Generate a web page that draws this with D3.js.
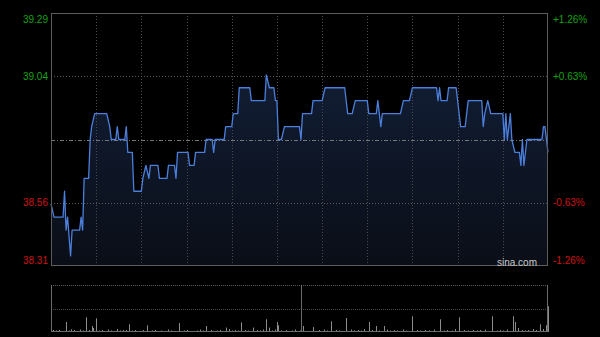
<!DOCTYPE html>
<html><head><meta charset="utf-8">
<script src="https://cdn.jsdelivr.net/npm/d3@7"></script>
<style>html,body{margin:0;padding:0;background:#000;}svg{display:block;}</style>
</head><body>
<svg id="c" width="600" height="337"></svg>
<script>
// ---- data ----
const prevClose = 38.80;
const pctTicks = [0.0126, 0.0063, -0.0063, -0.0126];
const priceTickLabels = ["39.29", "39.04", "38.56", "38.31"];
const pctTickLabels = ["+1.26%", "+0.63%", "-0.63%", "-1.26%"];
const sessions = [["09:30", "12:00"], ["13:00", "16:00"]];
const priceTimes = ["09:30","09:32","09:38","09:39","09:40","09:41","09:43","09:44","09:49","09:50","09:51","09:52","09:55","09:56","09:57","09:59","10:07","10:09","10:10","10:13","10:14","10:15","10:19","10:20","10:21","10:24","10:25","10:30","10:31","10:33","10:35","10:36","10:41","10:42","10:47","10:48","10:52","10:53","10:54","11:01","11:02","11:05","11:06","11:12","11:13","11:17","11:18","11:19","11:25","11:26","11:30","11:31","11:34","11:35","11:42","11:43","11:52","11:53","11:55","11:58","11:59","12:00","13:01","13:03","13:05","13:15","13:16","13:17","13:23","13:24","13:30","13:32","13:45","13:47","13:50","13:52","14:00","14:01","14:06","14:07","14:09","14:10","14:22","14:24","14:28","14:30","14:46","14:47","14:48","14:49","14:53","14:54","14:59","15:02","15:05","15:07","15:16","15:17","15:18","15:20","15:22","15:30","15:31","15:32","15:33","15:35","15:36","15:38","15:41","15:42","15:43","15:44","15:46","15:56","15:57","15:58","16:00"];
const priceValues = [38.55,38.50,38.50,38.60,38.45,38.50,38.35,38.45,38.45,38.50,38.45,38.65,38.65,38.80,38.85,38.90,38.90,38.85,38.80,38.80,38.85,38.80,38.80,38.85,38.75,38.75,38.60,38.60,38.65,38.70,38.65,38.70,38.70,38.65,38.65,38.70,38.70,38.65,38.75,38.75,38.70,38.70,38.75,38.75,38.80,38.80,38.75,38.80,38.80,38.85,38.85,38.90,38.90,39.00,39.00,38.95,38.95,39.05,39.00,39.00,38.95,38.95,38.80,38.80,38.85,38.85,38.80,38.90,38.90,38.95,38.95,39.00,39.00,38.90,38.90,38.95,38.95,38.90,38.90,38.95,38.85,38.90,38.90,38.95,38.95,39.00,39.00,38.95,39.00,38.95,38.95,39.00,39.00,38.85,38.85,38.95,38.95,38.85,38.90,38.95,38.90,38.90,38.80,38.90,38.80,38.90,38.80,38.75,38.75,38.70,38.80,38.70,38.80,38.80,38.85,38.85,38.75];
// volume per minute (shares), only minutes with visible bars
const volTimes = ["09:30","09:31","09:33","09:35","09:37","09:40","09:42","09:43","09:45","09:47","09:49","09:51","09:53","09:55","09:57","09:58","10:00","10:02","10:04","10:06","10:08","10:10","10:12","10:14","10:16","10:18","10:20","10:22","10:24","10:26","10:28","10:31","10:34","10:37","10:39","10:43","10:45","10:48","10:50","10:55","10:58","11:00","11:03","11:07","11:09","11:11","11:13","11:16","11:20","11:22","11:26","11:28","11:30","11:32","11:34","11:36","11:39","11:41","11:44","11:47","11:49","11:51","11:53","11:55","11:57","11:59","12:00","13:01","13:03","13:06","13:10","13:12","13:15","13:17","13:20","13:24","13:28","13:31","13:33","13:36","13:39","13:41","13:46","13:49","13:51","13:54","13:56","13:58","14:01","14:03","14:06","14:08","14:11","14:13","14:15","14:18","14:20","14:24","14:26","14:30","14:33","14:35","14:38","14:41","14:44","14:48","14:51","14:53","14:56","14:58","15:01","15:04","15:07","15:10","15:13","15:15","15:18","15:23","15:26","15:28","15:30","15:33","15:37","15:38","15:40","15:43","15:45","15:47","15:50","15:52","15:55","15:57","15:59","16:00"];
const volValues = [4000,2000,1500,2000,1000,10000,1500,2700,2000,1000,2500,1500,14700,2000,6000,4000,13700,1500,2000,1000,2500,1500,1000,3000,1500,2000,2000,7700,1500,2000,1000,2000,6700,1500,2000,1500,1000,2500,1500,9000,1500,2000,1000,1500,2500,1500,6000,2000,1500,2000,4400,3000,1500,2000,1500,9700,2000,1500,4400,2000,1500,2500,12700,4400,1500,2500,10000,6700,1500,2000,1500,2500,1500,6000,1000,5000,2000,2500,1500,10700,2000,1500,14000,2500,1500,2000,1500,3000,10000,2000,6000,1500,6000,2500,1500,2000,1500,2500,1500,15700,2000,1500,2000,1500,2500,12700,1500,2000,1500,3000,14700,2000,1500,2000,1500,2000,2500,15700,1500,2000,1500,2500,15700,10000,4000,2000,1500,2000,3000,2000,7700,3000,6700,25700];
const volTop = 47000;

// ---- helpers ----
function toMin(t){ const [h,m]=t.split(":").map(Number); const v=h*60+m; return v<=720 ? v-570 : v-780+150; }
const totalMin = toMin(sessions[1][1]);

const svg = d3.select("#c");
const L = 51, R = 548, T = 13, B = 266;
const VT = 285, VB = 332;

const x = d3.scaleLinear().domain([0, totalMin]).range([L, R]);
const y = d3.scaleLinear().domain([prevClose*(1+pctTicks[3]), prevClose*(1+pctTicks[0])]).range([B, T]);
const yv = d3.scaleLinear().domain([0, volTop]).range([VB, VT]);

const defs = svg.append("defs");
const grad = defs.append("linearGradient").attr("id","ag").attr("gradientUnits","userSpaceOnUse")
  .attr("x1",0).attr("x2",0).attr("y1",T).attr("y2",B);
grad.append("stop").attr("offset","0%").attr("stop-color","#15233f");
grad.append("stop").attr("offset","30%").attr("stop-color","#111c32");
grad.append("stop").attr("offset","100%").attr("stop-color","#0a0e17");

const pts = priceTimes.map((t,i)=>({m:toMin(t), p:priceValues[i]}));

// area
svg.append("path").datum(pts)
  .attr("d", d3.area().x(d=>x(d.m)).y0(B).y1(d=>y(d.p)))
  .attr("fill","url(#ag)");

// vertical grid lines (every 30 minutes)
const vgrid = d3.range(30, totalMin, 30);
svg.append("g").selectAll("line").data(vgrid).join("line")
  .attr("x1",d=>Math.round(x(d))+0.5).attr("x2",d=>Math.round(x(d))+0.5)
  .attr("y1",T).attr("y2",B)
  .attr("stroke","#4a4a4a").attr("stroke-dasharray","1,2");

// horizontal grid
const hLevels = [pctTicks[1], pctTicks[2]];
svg.append("g").selectAll("line").data(hLevels).join("line")
  .attr("x1",L).attr("x2",R)
  .attr("y1",d=>Math.round(y(prevClose*(1+d)))+0.5).attr("y2",d=>Math.round(y(prevClose*(1+d)))+0.5)
  .attr("stroke","#5a5a5a").attr("stroke-dasharray","1,2");
svg.append("line").attr("x1",L).attr("x2",R)
  .attr("y1",Math.round(y(prevClose))+0.5).attr("y2",Math.round(y(prevClose))+0.5)
  .attr("stroke","#777").attr("stroke-dasharray","4,2,1,2");

// line
svg.append("path").datum(pts)
  .attr("d", d3.line().x(d=>x(d.m)).y(d=>y(d.p)))
  .attr("fill","none").attr("stroke","#4b7fdc").attr("stroke-width",1.3).attr("stroke-linejoin","round");

// frame
svg.append("rect").attr("x",L+0.5).attr("y",T+0.5).attr("width",R-L-1).attr("height",B-T-1)
  .attr("fill","none").attr("stroke","#5c5c5c");

// labels
const lbl = svg.append("g").attr("font-family","Liberation Sans, Arial, sans-serif").attr("font-size",10);
pctTicks.forEach((p,i)=>{
  let yy = y(prevClose*(1+p));
  yy = Math.min(Math.max(yy, T+6), B-6);
  const col = p>0 ? "#13a313" : "#d01010";
  lbl.append("text").attr("x",48).attr("y",yy).attr("dy","0.35em").attr("text-anchor","end")
    .attr("fill",col).text(priceTickLabels[i]);
  lbl.append("text").attr("x",553).attr("y",yy).attr("dy","0.35em").attr("text-anchor","start")
    .attr("fill",col).text(pctTickLabels[i]);
});
svg.append("text").attr("x",537).attr("y",262).attr("dy","0.35em").attr("text-anchor","end")
  .attr("font-family","Liberation Sans, Arial, sans-serif").attr("font-size",10)
  .attr("fill","#c8c8c8").text("sina.com");

// volume panel
svg.append("line").attr("x1",L).attr("x2",R).attr("y1",VT+0.5).attr("y2",VT+0.5)
  .attr("stroke","#5a5a5a").attr("stroke-dasharray","1,1");
svg.append("line").attr("x1",L).attr("x2",R).attr("y1",Math.round(yv(volTop/2))+0.5).attr("y2",Math.round(yv(volTop/2))+0.5)
  .attr("stroke","#4a4a4a").attr("stroke-dasharray","1,1");
const vol = volTimes.map((t,i)=>({m:toMin(t), v:volValues[i]}));
svg.append("g").selectAll("line").data(vol).join("line")
  .attr("x1",d=>Math.round(x(d.m))+0.5).attr("x2",d=>Math.round(x(d.m))+0.5)
  .attr("y1",VB).attr("y2",d=>yv(d.v))
  .attr("stroke","#8c8c8c").attr("stroke-width",1);
svg.append("line").attr("x1",L+0.5).attr("x2",L+0.5).attr("y1",VT).attr("y2",VB).attr("stroke","#6a6a6a");
svg.append("line").attr("x1",R-0.5).attr("x2",R-0.5).attr("y1",VT).attr("y2",VB).attr("stroke","#6a6a6a");
svg.append("line").attr("x1",301.5).attr("x2",301.5).attr("y1",VT).attr("y2",VB).attr("stroke","#6a6a6a");
svg.append("line").attr("x1",L).attr("x2",R).attr("y1",VB-0.5).attr("y2",VB-0.5).attr("stroke","#6a6a6a");
</script>
</body></html>
